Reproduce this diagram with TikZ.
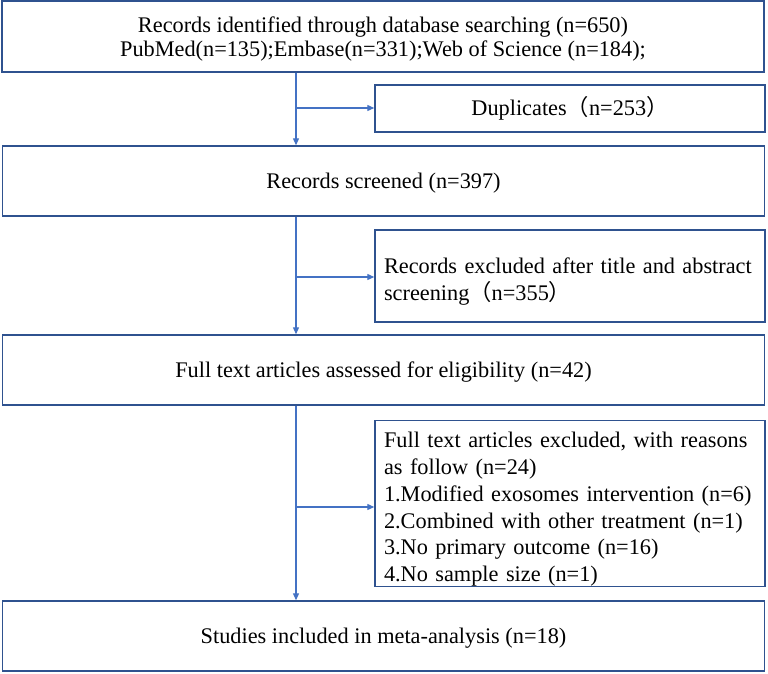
\documentclass[tikz,border=0pt]{standalone}
\usepackage{fontspec}
\setmainfont{Liberation Serif}
\newfontfamily\cjk{Noto Sans CJK SC}
\usetikzlibrary{arrows.meta}

\newcommand{\lowtop}{\rule{0pt}{27pt}}

\begin{document}
\begin{tikzpicture}[x=1pt,y=1pt,
    mainbox/.style={draw=boxblue, line width=1.4pt, minimum width=762pt, inner sep=0pt, align=center,
        text depth=0pt, font=\fontsize{22.3}{24}\selectfont},
    sidebox/.style={draw=boxblue, line width=1.4pt, minimum width=390pt, inner xsep=9pt, inner ysep=0pt,
        text width=372pt, align=left, font=\fontsize{22.3}{26.8}\selectfont},
    arr/.style={draw=lineblue, line width=1.2pt, -{Triangle[length=7pt,width=6pt]}}]
    \definecolor{boxblue}{RGB}{47, 82, 143}
    \definecolor{lineblue}{RGB}{68, 114, 196}

    \useasboundingbox (0,0) rectangle (768,-674);

    % boxes down the middle
    \node[mainbox, minimum height=71pt] (ident) at (383,-36.5)
        {Records identified through database searching (n=650)\\
         PubMed(n=135);Embase(n=331);Web of Science (n=184);};
    \node[mainbox, minimum height=70pt] (screen) at (383.5,-181) {Records screened (n=397)};
    \node[mainbox, minimum height=70pt] (assess) at (383.5,-370) {Full text articles assessed for eligibility (n=42)};
    \node[mainbox, minimum height=70pt] (incl) at (383.5,-636) {Studies included in meta-analysis (n=18)};

    % boxes on the right
    \node[sidebox, minimum height=47pt, align=center] (dup) at (570,-108.5)
        {Duplicates{\cjk （}n=253{\cjk ）}};
    \node[sidebox, minimum height=92pt] (absexcl) at (570,-276)
        {\lowtop Records excluded after title and abstract\\ screening{\cjk （}n=355{\cjk ）}};
    \node[sidebox, minimum height=161pt] (ftexcl) at (570,-503.5)
        {\lowtop Full text articles excluded, with reasons\\
         as follow (n=24)\\
         1.Modified exosomes intervention (n=6)\\
         2.Combined with other treatment (n=1)\\
         3.No primary outcome (n=16)\\
         4.No sample size (n=1)};

    \coordinate (spine) at (296,0);
    \coordinate (s1) at (296,-108);
    \coordinate (s2) at (296,-277);
    \coordinate (s3) at (296,-507);

    \draw[arr] (ident.south -| spine) -- (screen.north -| spine);
    \draw[arr] (screen.south -| spine) -- (assess.north -| spine);
    \draw[arr] (assess.south -| spine) -- (incl.north -| spine);

    \draw[arr] (s1) -- (s1 -| dup.west);
    \draw[arr] (s2) -- (s2 -| absexcl.west);
    \draw[arr] (s3) -- (s3 -| ftexcl.west);
\end{tikzpicture}
\end{document}
